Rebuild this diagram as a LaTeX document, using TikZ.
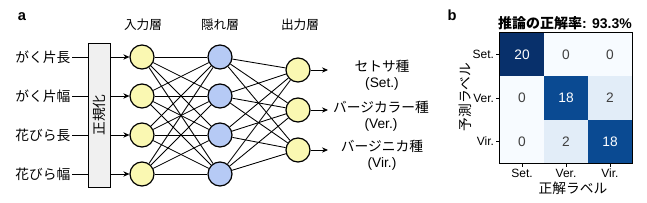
\documentclass[tikz,border=0pt]{standalone}
\usepackage{fontspec}
\setmainfont{Liberation Sans}
\newfontfamily\jp{Noto Sans CJK JP}
\usetikzlibrary{arrows.meta}
\definecolor{nyel}{RGB}{250,248,178}
\definecolor{nblu}{RGB}{182,202,245}
\definecolor{cmA}{RGB}{247,251,255}
\definecolor{cmB}{RGB}{226,237,248}
\definecolor{cmC}{RGB}{10,74,146}
\definecolor{cmD}{RGB}{8,48,107}
\begin{document}
\begin{tikzpicture}[x=0.75pt,y=-0.75pt,
  v/.style={circle,draw=black,line width=0.9pt,minimum size=18pt,inner sep=0pt,fill=nyel},
  hv/.style={v,fill=nblu},
  e/.style={draw=black,line width=0.65pt},
  ar/.style={e,-{Stealth[length=4.5pt,width=4pt]}},
  jt/.style={font=\jp\fontsize{10.3}{12}\selectfont,inner sep=1pt},
  lt/.style={font=\fontsize{10.3}{12}\selectfont,inner sep=1pt},
  tk/.style={font=\fontsize{9}{10}\selectfont,inner sep=1pt},
  pl/.style={font=\bfseries\fontsize{11}{12}\selectfont,inner sep=0pt},
  cell/.style={minimum width=33pt,minimum height=32.5pt,inner sep=0pt,font=\fontsize{10.3}{12}\selectfont}]
  \useasboundingbox (0,0) rectangle (647,203);
  % panel a
  \node[pl] (pa) at (22,17) {a};
  \node[jt,font=\jp\fontsize{9.5}{12}\selectfont] (ti) at (143,25) {入力層};
  \node[jt,font=\jp\fontsize{9.5}{12}\selectfont] (th) at (220,25) {隠れ層};
  \node[jt,font=\jp\fontsize{9.5}{12}\selectfont] (to) at (300,25) {出力層};
  % normalisation box
  \node[draw=black,line width=0.7pt,fill=black!6,minimum width=17pt,minimum height=108pt,inner sep=0pt] (nb) at (99.5,115) {};
  \node[jt,rotate=90] (nt) at (nb.center) {正規化};
  % inputs
  \foreach \t [count=\k] in {がく片長,がく片幅,花びら長,花びら幅} {
    \pgfmathsetmacro\yy{57+39*(\k-1)}
    \node[jt,anchor=east] (l\k) at (72,\yy) {\t};
    \draw[e] (l\k.east) -- (l\k.east -| nb.west);
    \node[v] (i\k) at (142,\yy) {};
    \node[hv] (h\k) at (220,\yy) {};
    \draw[ar] (l\k.east -| nb.east) -- (i\k);
  }
  \foreach \k in {1,2,3} {
    \pgfmathsetmacro\yy{70+40*(\k-1)}
    \node[v] (o\k) at (298,\yy) {};
    \coordinate (oe\k) at (328,\yy);
    \draw[ar] (o\k) -- (oe\k);
  }
  \foreach \a in {1,...,4} \foreach \b in {1,...,4} \draw[e] (i\a) -- (h\b);
  \foreach \a in {1,...,4} \foreach \b in {1,2,3} \draw[e] (h\a) -- (o\b);
  % output classes
  \node[lt,align=center] (c1) at (382,75) {{\jp セトサ種}\\(Set.)};
  \node[lt,align=center] (c2) at (381,116) {{\jp バージカラー種}\\(Ver.)};
  \node[lt,align=center] (c3) at (382,155) {{\jp バージニカ種}\\(Vir.)};
  % panel b
  \node[pl] (pb) at (452,15) {b};
  \node[inner sep=0pt,font=\bfseries\fontsize{10.5}{12}\selectfont] (tb) at (565,23) {{\jp 推論の正解率}: 93.3\%};
  \foreach \r/\c/\val/\col/\tc in {1/1/20/cmD/white,1/2/0/cmA/black!75,1/3/0/cmA/black!75,
      2/1/0/cmA/black!75,2/2/18/cmC/white,2/3/2/cmB/black!75,
      3/1/0/cmA/black!75,3/2/2/cmB/black!75,3/3/18/cmC/white}
    \node[cell,fill=\col,text=\tc] (m\r\c) at (522+44*\c-44,54.7+43.3*\r-43.3) {\val};
  \draw[line width=0.8pt] (m11.north west) rectangle (m33.south east);
  \foreach \t [count=\k] in {Set.,Ver.,Vir.} {
    \draw[line width=0.6pt] (m\k1.west) -- ++(-4,0) node[tk,anchor=east] (yl\k) {\t};
    \draw[line width=0.6pt] (m3\k.south) -- ++(0,4) node[tk,anchor=north] (xl\k) {\t};
  }
  \node[jt,rotate=90] (yt) at (465,97) {予測ラベル};
  \node[jt] (xt) at (573,188) {正解ラベル};
\end{tikzpicture}
\end{document}
